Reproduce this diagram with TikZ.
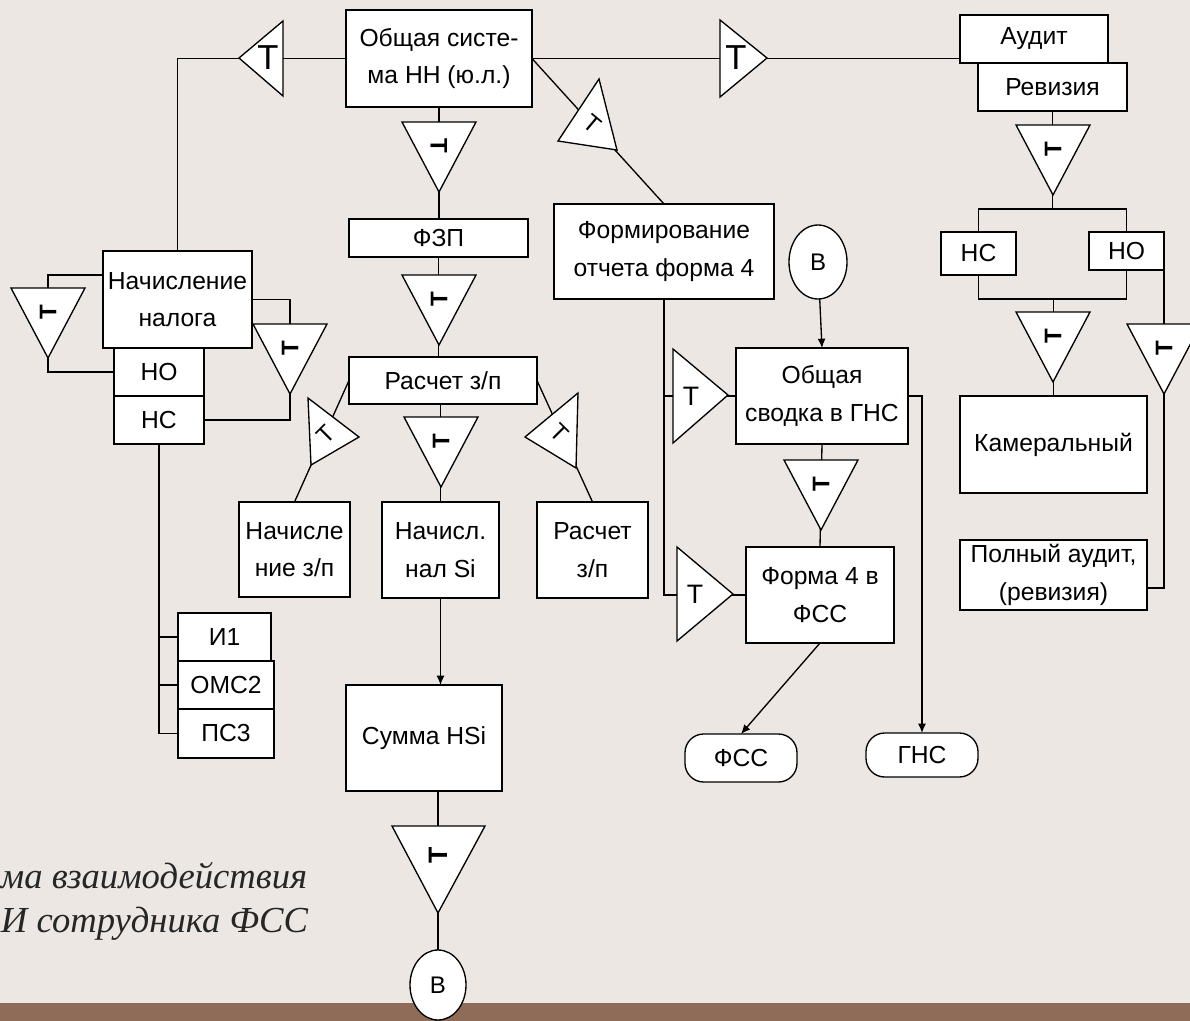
\documentclass[tikz,border=0pt]{standalone}
\usepackage{fontspec}
\setmainfont{Liberation Sans}
\newfontfamily\capfont{Liberation Serif}
\usetikzlibrary{arrows.meta,shapes.geometric,calc}
\definecolor{bgc}{HTML}{ECE7E3}
\definecolor{bandc}{HTML}{8F6C57}
\definecolor{capc}{HTML}{262626}
\begin{document}
\begin{tikzpicture}[x=0.75pt,y=-0.75pt,
 line width=1pt,
 every node/.style={inner sep=0pt,outer sep=0pt},
 bx/.style={draw,fill=white,align=center,font=\fontsize{18.5}{28}\selectfont},
 wh/.style 2 args={minimum width=#1*0.75pt,minimum height=#2*0.75pt},
 term/.style={bx,rounded corners=14pt},
 ell/.style={draw,fill=white,ellipse,font=\fontsize{18}{20}\selectfont},
 tri/.style={draw,fill=white,line join=miter},
 symT/.style={font=\fontsize{18}{18}\selectfont},
 symB/.style={font=\fontsize{26}{26}\selectfont},
 symR/.style={font=\bfseries\fontsize{18}{18}\selectfont},
 capt/.style={font=\capfont\itshape\fontsize{27.5}{33}\selectfont,text=capc,anchor=base west},
 arr/.style={-{Latex[length=7pt,width=6pt]}},
 dtri/.pic={\filldraw[tri] (-37,0) -- (37,0) -- (0,70) -- cycle; \node[symR,rotate=#1] (-s) at (0,24) {T};}
]
\useasboundingbox (0,0) rectangle (1190,1021);
\fill[bgc] (0,0) rectangle (1190,1021);
\fill[bandc] (0,1003) rectangle (1190,1021);

% caption
\node[capt] (cap1) at (1,888) {ма взаимодействия};
\node[capt] (cap2) at (1,932) {И сотрудника ФСС};

% boxes
\node[bx,wh={186}{97}] (A) at (439,58.5) {Общая систе-\\ма НН (ю.л.)};
\node[bx,wh={148}{48}] (audit) at (1034,39) {Аудит};
\node[bx,wh={149}{48}] (rev) at (1052.5,87) {Ревизия};
\node[bx,wh={75}{43}] (ncr) at (978.5,253.5) {НС};
\node[bx,wh={75}{38}] (nor) at (1126.5,251) {НО};
\node[bx,wh={187}{97}] (kam) at (1053.5,444.5) {Камеральный};
\node[bx,wh={187}{70}] (poln) at (1053.5,575) {Полный аудит,\\(ревизия)};
\node[bx,wh={179}{38}] (fzp) at (438.5,238) {ФЗП};
\node[bx,wh={188}{47}] (rasch) at (443,380.5) {Расчет з/п};
\node[bx,wh={149}{97}] (nach) at (177.5,299.5) {Начисление\\налога};
\node[bx,wh={90}{48}] (nol) at (159,372) {НО};
\node[bx,wh={90}{48}] (ncl) at (159,420) {НС};
\node[bx,wh={93}{48}] (i1) at (224.5,637) {И1};
\node[bx,wh={96}{48}] (omc) at (226,685) {ОМС2};
\node[bx,wh={96}{49}] (ps3) at (226,733.5) {ПС3};
\node[bx,wh={111}{95}] (nzp) at (294.5,549.5) {Начисле\\ние з/п};
\node[bx,wh={117}{96}] (nsi) at (440.5,550) {Начисл.\\нал Si};
\node[bx,wh={111}{96}] (rzp) at (592.5,550) {Расчет\\з/п};
\node[bx,wh={156}{106}] (sum) at (424,738) {Сумма HSi};
\node[bx,wh={220}{95}] (form) at (664,251.5) {Формирование\\отчета форма 4};
\node[bx,wh={172}{96}] (svod) at (822,396) {Общая\\сводка в ГНС};
\node[bx,wh={148}{96}] (f4) at (820,595) {Форма 4 в\\ФСС};
\node[term,wh={112}{48}] (fss) at (741,758) {ФСС};
\node[term,wh={112}{44}] (gns) at (922,755) {ГНС};
\node[ell,wh={58}{74}] (vtop) at (818,262) {В};
\node[ell,wh={56}{70}] (vbot) at (438,985) {В};

% connectors
\draw (A.west) -| (nach.north);
\draw (A.east) -- (A.east -| audit.west);
\draw (A.south) -- (A.south |- fzp.north);
\draw (A.east) -- (form.north);
\draw ($(nach.north west)+(0,24)$) -- ++(-55,0) |- (nol.west);
\draw (nach.east) -- ++(38,0) |- (ncl.east);
\draw (ncl.south) |- (ps3.west);
\draw (ncl.south |- i1.west) -- (i1.west);
\draw (ncl.south |- omc.west) -- (omc.west);
\draw (fzp.south) -- (fzp.south |- rasch.north);
\draw (nsi.north |- rasch.south) -- (nsi.north);
\draw (rasch.west) -- (nzp.north);
\draw (rasch.east) -- (rzp.north);
\draw[arr] (nsi.south) -- (nsi.south |- sum.north);
\draw (vbot.north |- sum.south) -- (vbot.north);
\draw (form.south) |- (f4.west);
\draw (form.south |- svod.west) -- (svod.west);
\draw[arr] (vtop) -- (svod.north);
\draw (svod.south) -- (f4.north);
\draw[arr] (f4.south) -- (fss.north);
\draw[arr] (svod.east) -| (gns.north);
\draw (rev.south) -- ++(0,98);
\draw (ncr.north) -- ++(0,-23) -| (nor.north);
\draw (ncr.south) -- ++(0,24) -| (nor.south);
\draw (kam.north) -- ++(0,-97);
\draw (nor.south east) -- ($(nor.south east |- poln.south east)+(0,-22)$) -- ($(poln.south east)+(0,-22)$);

% triangles
\filldraw[tri] (283,21) -- (283,96) -- (239,58) -- cycle;
\node[symB] (t1) at (268,58) {T};
\filldraw[tri] (720,20) -- (720,97) -- (767,58) -- cycle;
\node[symB] (t2) at (736,58) {T};
\filldraw[tri] (599,79) -- (558,141) -- (617,150) -- cycle;
\node[symT,rotate=-40] (t4) at (592,124) {T};
\filldraw[tri] (308,398) -- (359,437) -- (311,465) -- cycle;
\node[symT,rotate=45] (t7) at (326,434) {T};
\filldraw[tri] (578,393) -- (525,437) -- (576,468) -- cycle;
\node[symT,rotate=-45] (t8) at (560,433) {T};
\filldraw[tri] (673,349) -- (673,443) -- (728,395) -- cycle;
\node[symT,font=\fontsize{20}{20}\selectfont] (t12) at (691,396) {T};
\filldraw[tri] (677,547) -- (677,641) -- (733,594) -- cycle;
\node[symT,font=\fontsize{20}{20}\selectfont] (t13) at (695,594) {T};
\filldraw[tri] (392,826) -- (485,826) -- (438,913) -- cycle;
\node[font=\bfseries\fontsize{20}{20}\selectfont,rotate=90] (t11) at (438,855) {T};
\pic (t3) at (439,122) {dtri=-90};
\pic (t5) at (439,275) {dtri=90};
\pic (t6) at (441,417) {dtri=90};
\pic (t9) at (48,288) {dtri=90};
\pic (t10) at (290,324) {dtri=90};
\pic (t14) at (821,460) {dtri=90};
\pic (t15) at (1053,125) {dtri=90};
\pic (t16) at (1053,312) {dtri=90};
\pic (t17) at (1164,324) {dtri=90};
\end{tikzpicture}
\end{document}
